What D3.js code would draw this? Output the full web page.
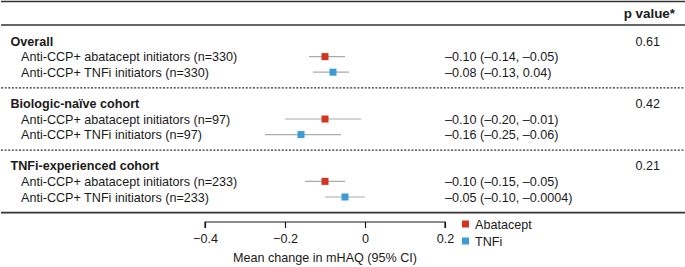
<!DOCTYPE html>
<html>
<head>
<meta charset="utf-8">
<script src="https://cdn.jsdelivr.net/npm/d3@7"></script>
<style>
  html, body { margin: 0; padding: 0; background: #fff; }
  svg { display: block; font-family: "Liberation Sans", Arial, sans-serif; }
</style>
</head>
<body>
<svg id="chart" width="685" height="267"></svg>
<script>
/* Forest plot: mean change in mHAQ by cohort */
(function () {
  const groups = ["Overall", "Biologic-naïve cohort", "TNFi-experienced cohort"];
  const pValues = ["0.61", "0.42", "0.21"];
  const rowLabels = [
    ["Anti-CCP+ abatacept initiators (n=330)", "Anti-CCP+ TNFi initiators (n=330)"],
    ["Anti-CCP+ abatacept initiators (n=97)", "Anti-CCP+ TNFi initiators (n=97)"],
    ["Anti-CCP+ abatacept initiators (n=233)", "Anti-CCP+ TNFi initiators (n=233)"]
  ];
  const treatments = ["Abatacept", "TNFi"];
  // point estimates and CI bounds as drawn in the plot
  const estimates = [[-0.10, -0.08], [-0.10, -0.16], [-0.10, -0.05]];
  const lower = [[-0.14, -0.13], [-0.20, -0.25], [-0.15, -0.10]];
  const upper = [[-0.05, -0.04], [-0.01, -0.06], [-0.05, -0.0004]];
  const ciText = [
    ["–0.10 (–0.14, –0.05)", "–0.08 (–0.13, 0.04)"],
    ["–0.10 (–0.20, –0.01)", "–0.16 (–0.25, –0.06)"],
    ["–0.10 (–0.15, –0.05)", "–0.05 (–0.10, –0.0004)"]
  ];
  const xTicks = [-0.4, -0.2, 0, 0.2];

  const W = 685;
  const ink = "#1a1a1a";
  const fs = 12.6;
  const colors = d3.scaleOrdinal().domain(treatments).range(["#d4351f", "#3b9bd6"]);

  const svg = d3.select("#chart");

  // x scale for estimates
  const x = d3.scaleLinear().domain([-0.4, 0.2]).range([205, 445]);
  // line index -> y (3 lines per group + 1 separator)
  const y = d3.scaleLinear().domain([0, 11]).range([41, 212.6]);

  const fmtMinus = d => d === 0 ? "0" : d3.format(".1f")(d).replace("-", "–");

  // header rules
  svg.append("line").attr("x1", 1).attr("x2", W).attr("y1", 1.5).attr("y2", 1.5)
    .attr("stroke", "#333").attr("stroke-width", 1.6);
  svg.append("line").attr("x1", 1).attr("x2", W).attr("y1", 25).attr("y2", 25)
    .attr("stroke", "#333").attr("stroke-width", 1.6);
  svg.append("text").attr("x", 675).attr("y", 18).attr("text-anchor", "end")
    .attr("font-size", 13.4).attr("font-weight", 700).attr("fill", ink)
    .text("p value*");

  groups.forEach((gName, gi) => {
    const base = gi * 4;
    svg.append("text").attr("x", 10.5).attr("y", y(base) + 4.5)
      .attr("font-size", fs).attr("font-weight", 700).attr("fill", ink)
      .text(gName);
    svg.append("text").attr("x", 660).attr("y", y(base) + 4.5)
      .attr("text-anchor", "end").attr("font-size", fs).attr("fill", ink)
      .text(pValues[gi]);

    treatments.forEach((t, ti) => {
      const yy = y(base + 1 + ti);
      svg.append("text").attr("x", 21).attr("y", yy + 4.5)
        .attr("font-size", fs).attr("fill", ink).text(rowLabels[gi][ti]);
      svg.append("line")
        .attr("x1", x(lower[gi][ti])).attr("x2", x(upper[gi][ti]))
        .attr("y1", yy).attr("y2", yy)
        .attr("stroke", "#aaa").attr("stroke-width", 1.2);
      svg.append("rect")
        .attr("x", x(estimates[gi][ti]) - 3.5).attr("y", yy - 3.5)
        .attr("width", 7).attr("height", 7)
        .attr("fill", colors(t));
      svg.append("text").attr("x", 445).attr("y", yy + 4.5)
        .attr("font-size", fs).attr("fill", ink).text(ciText[gi][ti]);
    });

    if (gi < groups.length - 1) {
      svg.append("line").attr("x1", 1).attr("x2", W)
        .attr("y1", y(base + 3)).attr("y2", y(base + 3))
        .attr("stroke", "#333").attr("stroke-width", 1.2)
        .attr("stroke-dasharray", "2,1.6");
    }
  });

  // bottom rule
  svg.append("line").attr("x1", 1).attr("x2", W).attr("y1", y(11)).attr("y2", y(11))
    .attr("stroke", "#333").attr("stroke-width", 1.6);

  // x axis
  const axisG = svg.append("g").attr("transform", "translate(0,222)")
    .call(d3.axisBottom(x).tickValues(xTicks).tickFormat(fmtMinus).tickSize(6).tickPadding(6));
  axisG.select(".domain").attr("stroke", ink).attr("stroke-width", 1.2)
    .attr("d", `M${x(-0.4)},6V0H${x(0.2)}V6`);
  axisG.selectAll(".tick line").attr("stroke", ink).attr("stroke-width", 1.2);
  axisG.selectAll(".tick text").attr("font-size", fs).attr("fill", ink)
    .attr("font-family", "Liberation Sans, Arial, sans-serif");

  svg.append("text").attr("x", x(-0.1)).attr("y", 262).attr("text-anchor", "middle")
    .attr("font-size", fs).attr("fill", ink).text("Mean change in mHAQ (95% CI)");

  // legend
  const leg = svg.append("g").attr("transform", "translate(462,0)");
  treatments.forEach((t, i) => {
    const ly = 224 + i * 17;
    leg.append("rect").attr("x", 0).attr("y", ly - 3.5).attr("width", 7).attr("height", 7)
      .attr("fill", colors(t));
    leg.append("text").attr("x", 13).attr("y", ly + 4.5)
      .attr("font-size", fs).attr("fill", ink).text(t);
  });
})();
</script>
</body>
</html>
